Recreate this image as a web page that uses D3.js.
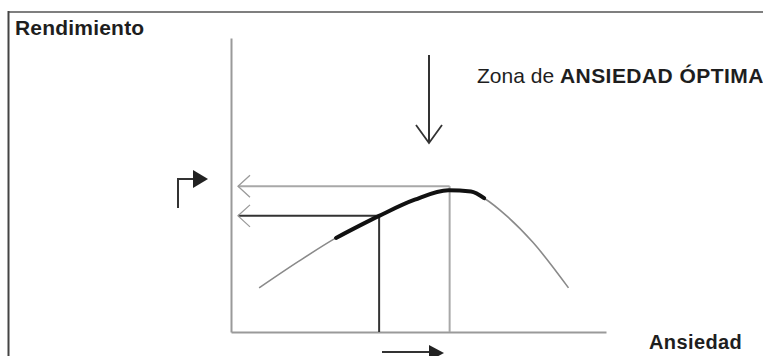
<!DOCTYPE html>
<html>
<head>
<meta charset="utf-8">
<script src="https://cdn.jsdelivr.net/npm/d3@7"></script>
<style>
  html, body { margin: 0; padding: 0; background: #fff; }
  svg { display: block; }
  text { font-family: "Liberation Sans", Arial, Helvetica, sans-serif; fill: #1e1e1e; }
</style>
</head>
<body>
<svg id="chart" width="763" height="356"></svg>
<script>
// ---- data (abstract units 0..100) ----
const anxiety     = [7.5, 18, 28, 39.5, 49, 58, 64, 67.5, 73.5, 80.5, 90];
const performance = [15, 24, 32, 39.5, 45, 48.2, 47.8, 45.5, 39.5, 30.5, 15];
const boldRange   = [2, 7];            // indices of the highlighted stretch
const markedPoint = { anxiety: 39.5, performance: 39.5 };
const optimumPoint = { anxiety: 58.3, performance: 49.6 };
const yTitle = "Rendimiento";
const xTitle = "Ansiedad";
const zoneLabel = "Zona de ";
const zoneLabelBold = "ANSIEDAD ÓPTIMA";

const svg = d3.select("#chart");
const W = 763, H = 356;

// frame
svg.append("line").attr("x1", 8).attr("y1", 12).attr("x2", W).attr("y2", 12)
  .attr("stroke", "#555").attr("stroke-width", 1.6);
svg.append("line").attr("x1", 8.5).attr("y1", 11).attr("x2", 8.5).attr("y2", H)
  .attr("stroke", "#444").attr("stroke-width", 2);

const x = d3.scaleLinear().domain([0, 100]).range([231, 606]);
const y = d3.scaleLinear().domain([0, 100]).range([332, 38]);

// axes (no ticks)
const gx = svg.append("g").attr("transform", `translate(0,${y(0)})`)
  .call(d3.axisBottom(x).ticks(0).tickSizeOuter(0));
const gy = svg.append("g").attr("transform", `translate(${x(0)},0)`)
  .call(d3.axisLeft(y).ticks(0).tickSizeOuter(0));
[gx, gy].forEach(g => g.select(".domain").attr("stroke", "#9a9a9a").attr("stroke-width", 2));

// reference lines
const arrowX = x(0) + 7;
svg.append("line").attr("x1", arrowX).attr("x2", x(optimumPoint.anxiety))
  .attr("y1", y(optimumPoint.performance)).attr("y2", y(optimumPoint.performance))
  .attr("stroke", "#a8a8a8").attr("stroke-width", 2);
svg.append("line").attr("x1", x(optimumPoint.anxiety)).attr("x2", x(optimumPoint.anxiety))
  .attr("y1", y(optimumPoint.performance)).attr("y2", y(0))
  .attr("stroke", "#a8a8a8").attr("stroke-width", 2);
svg.append("line").attr("x1", arrowX).attr("x2", x(markedPoint.anxiety))
  .attr("y1", y(markedPoint.performance)).attr("y2", y(markedPoint.performance))
  .attr("stroke", "#333").attr("stroke-width", 2);
svg.append("line").attr("x1", x(markedPoint.anxiety)).attr("x2", x(markedPoint.anxiety))
  .attr("y1", y(markedPoint.performance)).attr("y2", y(0))
  .attr("stroke", "#333").attr("stroke-width", 2);

// open chevrons at left end
[optimumPoint, markedPoint].forEach(p => {
  const yy = y(p.performance);
  svg.append("path")
    .attr("d", `M${arrowX + 12},${yy - 11} L${arrowX},${yy} L${arrowX + 12},${yy + 11}`)
    .attr("fill", "none").attr("stroke", "#9a9a9a").attr("stroke-width", 1.3);
});

// curve
const pts = anxiety.map((a, i) => [a, performance[i]]);
const line = d3.line().x(d => x(d[0])).y(d => y(d[1])).curve(d3.curveMonotoneX);
svg.append("path").attr("d", line(pts)).attr("fill", "none")
  .attr("stroke", "#8a8a8a").attr("stroke-width", 1.6);
svg.append("path").attr("d", line(pts.slice(boldRange[0], boldRange[1] + 1))).attr("fill", "none")
  .attr("stroke", "#111").attr("stroke-width", 4).attr("stroke-linecap", "round");

// down arrow (optimal zone)
const ax = 429;
svg.append("line").attr("x1", ax).attr("x2", ax).attr("y1", 55).attr("y2", 143)
  .attr("stroke", "#333").attr("stroke-width", 2);
svg.append("path").attr("d", `M${ax - 13},${125} L${ax},${143} L${ax + 13},${125}`)
  .attr("fill", "none").attr("stroke", "#333").attr("stroke-width", 1.8);

// L-shaped arrow (performance increases)
svg.append("path").attr("d", "M178,208 L178,179 L195,179")
  .attr("fill", "none").attr("stroke", "#333").attr("stroke-width", 2);
svg.append("path").attr("d", "M193,170 L208,179 L193,188 Z").attr("fill", "#222");

// bottom arrow (anxiety increases)
svg.append("line").attr("x1", 382).attr("x2", 432).attr("y1", 352).attr("y2", 352)
  .attr("stroke", "#333").attr("stroke-width", 1.8);
svg.append("path").attr("d", "M429,345 L444,353 L429,361 Z").attr("fill", "#222");

// texts
svg.append("text").attr("x", 15).attr("y", 35).attr("font-size", 21)
  .attr("font-weight", "bold").attr("letter-spacing", 0.2).text(yTitle);
svg.append("text").attr("x", 649).attr("y", 349).attr("font-size", 20)
  .attr("font-weight", "bold").attr("letter-spacing", 0.4).text(xTitle);
const z = svg.append("text").attr("x", 477).attr("y", 83).attr("font-size", 21);
z.append("tspan").text(zoneLabel);
z.append("tspan").attr("font-weight", "bold").attr("letter-spacing", 0.45).text(zoneLabelBold);
</script>
</body>
</html>
